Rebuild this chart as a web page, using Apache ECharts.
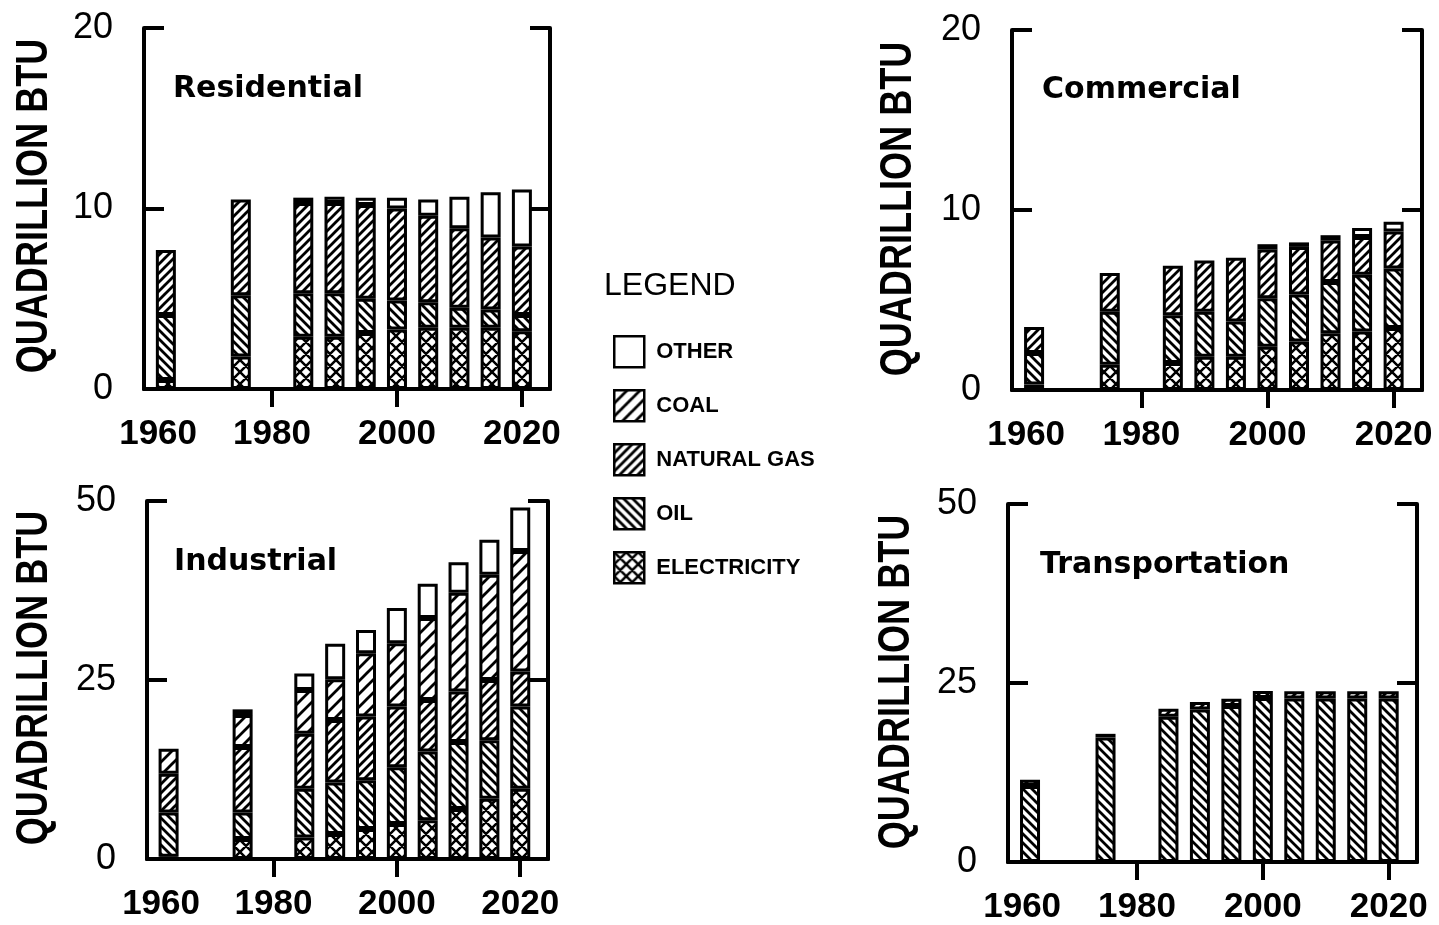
<!DOCTYPE html>
<html>
<head>
<meta charset="utf-8">
<script src="https://cdn.jsdelivr.net/npm/echarts@6/dist/echarts.min.js"></script>
<style>
  html, body { margin: 0; padding: 0; background: #fff; }
  #chart { width: 1439px; height: 925px; }
</style>
</head>
<body>
<div id="chart"></div>
<script>
// ---- data (quadrillion Btu by end-use sector and fuel) ----
const years = [1963, 1975, 1985, 1990, 1995, 2000, 2005, 2010, 2015, 2020];
const xTickYears = [1960, 1980, 2000, 2020];
const fuels = ['OTHER', 'COAL', 'NATURAL GAS', 'OIL', 'ELECTRICITY'];
const yAxisTitle = 'QUADRILLION BTU';

const residentialElectricity = [0.5, 1.8, 2.9, 2.9, 3.1, 3.3, 3.4, 3.4, 3.4, 3.2];
const residentialOil         = [3.6, 3.4, 2.4, 2.4, 1.9, 1.6, 1.4, 1.1, 1.0, 0.9];
const residentialGas         = [3.6, 5.3, 5.0, 5.0, 5.2, 5.1, 4.8, 4.4, 4.0, 3.8];
const residentialOther       = [0, 0, 0.3, 0.35, 0.4, 0.6, 0.9, 1.75, 2.5, 3.15];

const commercialElectricity = [0.3, 1.4, 1.5, 1.85, 1.85, 2.4, 2.7, 3.15, 3.25, 3.45];
const commercialOil         = [1.75, 2.95, 2.65, 2.5, 1.95, 2.7, 2.6, 2.85, 3.15, 3.3];
const commercialGas         = [1.45, 2.15, 2.75, 2.85, 3.55, 2.7, 2.65, 2.3, 2.1, 2.05];
const commercialOther       = [0, 0, 0, 0, 0, 0.3, 0.25, 0.3, 0.5, 0.55];

const industrialElectricity = [0.3, 2.8, 3.0, 3.5, 4.2, 4.9, 5.4, 7.0, 8.4, 9.8];
const industrialOil         = [6.2, 3.7, 6.8, 7.2, 6.8, 7.9, 9.6, 9.35, 8.2, 11.5];
const industrialGas         = [5.4, 9.15, 7.7, 8.7, 8.9, 8.5, 7.2, 7.05, 8.4, 4.9];
const industrialCoal        = [3.5, 4.45, 6.1, 5.7, 8.85, 8.85, 11.45, 13.8, 14.7, 16.8];
const industrialOther       = [0, 0.8, 2.3, 4.95, 3.25, 4.9, 4.8, 4.25, 4.9, 6.1];

const transportationOil = [10.6, 17.4, 20.3, 21.3, 21.8, 22.9, 22.85, 22.85, 22.85, 22.85];
const transportationGas = [0.9, 0.5, 1.1, 1.05, 1.0, 1.0, 1.0, 1.0, 1.0, 1.0];

// one category slot per calendar year so bars sit at their true time positions
const FIRST_YEAR = 1960, LAST_YEAR = 2024;
const yearSlots = [];
for (let y = FIRST_YEAR; y <= LAST_YEAR; y++) yearSlots.push(String(y));

// ---- styling ----
const FONT = "'Liberation Sans', Arial, sans-serif";
const TITLE_FONT = "'DejaVu Sans', sans-serif";

// diagonal hatch tiles used as bar fills
function hatch(period, lineWidth, dirs) {
  const c = document.createElement('canvas');
  c.width = period; c.height = period;
  const g = c.getContext('2d');
  const p = period;
  g.fillStyle = '#fff';
  g.fillRect(0, 0, p, p);
  g.strokeStyle = '#000';
  g.lineWidth = lineWidth;
  g.beginPath();
  for (const d of dirs) {
    for (const k of [-1, 0, 1, 2]) {
      const c0 = k * p;
      if (d === '/') { g.moveTo(-p, c0 + p); g.lineTo(2 * p, c0 - 2 * p); }
      else { g.moveTo(-p, c0 - p); g.lineTo(2 * p, c0 + 2 * p); }
    }
  }
  g.stroke();
  return { image: c, repeat: 'repeat' };
}

const fills = {
  'OTHER': '#ffffff',
  'COAL': hatch(13, 2.8, ['/']),
  'NATURAL GAS': hatch(9, 2.8, ['/']),
  'OIL': hatch(9, 2.8, ['\\']),
  'ELECTRICITY': hatch(12, 2.5, ['/', '\\'])
};

const panels = [
  { name: 'Residential', box: { left: 144, top: 28, width: 406, height: 361 }, max: 20, step: 10,
    namePos: [35, 206], titlePos: [173, 74],
    values: { 'ELECTRICITY': residentialElectricity, 'OIL': residentialOil,
              'NATURAL GAS': residentialGas, 'OTHER': residentialOther } },
  { name: 'Commercial', box: { left: 1012, top: 30, width: 410, height: 360 }, max: 20, step: 10,
    namePos: [899, 209], titlePos: [1042, 75],
    values: { 'ELECTRICITY': commercialElectricity, 'OIL': commercialOil,
              'NATURAL GAS': commercialGas, 'OTHER': commercialOther } },
  { name: 'Industrial', box: { left: 147, top: 501, width: 401, height: 358 }, max: 50, step: 25,
    namePos: [35, 678], titlePos: [174, 547],
    values: { 'ELECTRICITY': industrialElectricity, 'OIL': industrialOil,
              'NATURAL GAS': industrialGas, 'COAL': industrialCoal, 'OTHER': industrialOther } },
  { name: 'Transportation', box: { left: 1008, top: 504, width: 409, height: 358 }, max: 50, step: 25,
    namePos: [897, 682], titlePos: [1040, 550],
    values: { 'OIL': transportationOil, 'NATURAL GAS': transportationGas } }
];

const stackOrder = ['ELECTRICITY', 'OIL', 'NATURAL GAS', 'COAL', 'OTHER'];
const frameLine = { show: true, lineStyle: { color: '#000', width: 4 } };
const tickLine = { color: '#000', width: 4 };
const isLabelYear = (idx, val) => xTickYears.indexOf(+val) >= 0;
const isTopTickYear = (idx, val) => +val !== FIRST_YEAR && xTickYears.indexOf(+val) >= 0;

const grid = [], xAxis = [], yAxis = [], series = [], title = [], graphic = [];

panels.forEach((pn, i) => {
  grid.push(Object.assign({ show: false }, pn.box));

  xAxis.push({
    type: 'category', gridIndex: i, position: 'bottom', data: yearSlots,
    axisLine: frameLine, splitLine: { show: false }, axisTick: { show: false },
    axisLabel: {
      interval: isLabelYear, margin: 28, fontSize: 35, fontWeight: 'bold',
      fontFamily: FONT, color: '#000',
      formatter: v => (+v === FIRST_YEAR ? '{first|' + v + '}' : v),
      rich: { first: { padding: [0, 0, 0, 22], fontSize: 35, fontWeight: 'bold', fontFamily: FONT, color: '#000' } }
    }
  });
  xAxis.push({
    type: 'category', gridIndex: i, position: 'top', data: yearSlots,
    axisLine: frameLine, splitLine: { show: false }, axisLabel: { show: false },
    axisTick: { show: true, inside: true, length: 18, alignWithLabel: true,
                interval: isTopTickYear, lineStyle: tickLine }
  });
  yAxis.push({
    type: 'value', gridIndex: i, position: 'left', min: 0, max: pn.max, interval: pn.step,
    axisLine: frameLine, splitLine: { show: false },
    axisTick: { show: true, inside: true, length: 20, lineStyle: tickLine },
    axisLabel: { margin: 31, fontSize: 36, fontFamily: FONT, color: '#000' }
  });
  yAxis.push({
    type: 'value', gridIndex: i, position: 'right', min: 0, max: pn.max, interval: pn.step,
    axisLine: frameLine, splitLine: { show: false }, axisLabel: { show: false },
    axisTick: { show: true, inside: true, length: 20, lineStyle: tickLine }
  });

  stackOrder.forEach(f => {
    const vals = pn.values[f];
    if (!vals) return;
    series.push({
      type: 'bar', name: f, xAxisIndex: 2 * i, yAxisIndex: 2 * i, stack: 'sector' + i,
      barWidth: 20, silent: true,
      data: years.map((yr, k) => [String(yr), vals[k] > 0 ? vals[k] : '-']),
      itemStyle: { color: fills[f], borderColor: '#000', borderWidth: 3 },
      emphasis: { disabled: true }
    });
  });

  title.push({
    text: pn.name, left: pn.titlePos[0], top: pn.titlePos[1], padding: 0,
    textStyle: { fontFamily: TITLE_FONT, fontSize: 30, fontWeight: 'bold', color: '#000' }
  });

  // condensed, vertical unit title beside each value axis
  graphic.push({
    type: 'text', x: pn.namePos[0], y: pn.namePos[1], rotation: Math.PI / 2,
    scaleX: 0.82, silent: true,
    style: {
      text: yAxisTitle, fill: '#000', align: 'center', verticalAlign: 'middle',
      font: "bold 44px 'Liberation Sans', Arial, sans-serif"
    }
  });
});

title.push({
  text: 'LEGEND', left: 604, top: 270, padding: 0,
  textStyle: { fontFamily: FONT, fontSize: 32, fontWeight: 'normal', color: '#000' }
});

const chart = echarts.init(document.getElementById('chart'), null, { renderer: 'canvas' });
chart.setOption({
  backgroundColor: '#fff',
  animation: false,
  title: title,
  graphic: graphic,
  legend: {
    data: fuels, orient: 'vertical', left: 613, top: 335, padding: 0,
    itemWidth: 30, itemHeight: 31, itemGap: 20.5, selectedMode: false, icon: 'rect',
    itemStyle: { borderColor: '#000', borderWidth: 2.5 },
    textStyle: { fontFamily: FONT, fontSize: 22, fontWeight: 'bold', color: '#000', padding: [0, 0, 0, 7] }
  },
  grid: grid,
  xAxis: xAxis,
  yAxis: yAxis,
  series: series
});
</script>
</body>
</html>
